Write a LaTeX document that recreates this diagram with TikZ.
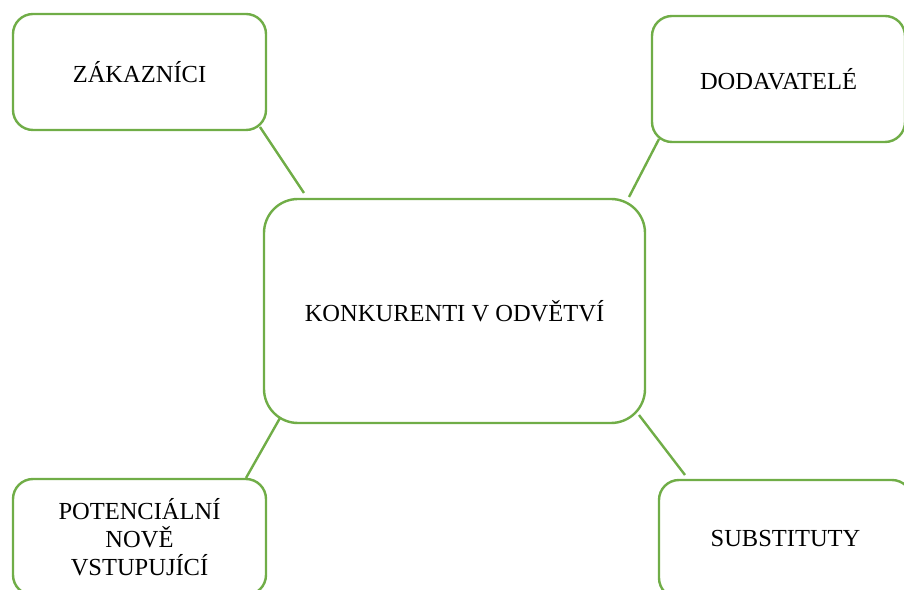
\documentclass[tikz,border=0pt]{standalone}
\usepackage{fontspec}
\setmainfont{Liberation Serif}
\usetikzlibrary{positioning}
\definecolor{leafgreen}{RGB}{112,173,71}

\begin{document}
\begin{tikzpicture}[x=1pt,y=1pt]
    % Define styles
    \tikzstyle{force} = [rectangle, draw=leafgreen, line width=2.4pt, fill=white, minimum width=253pt, minimum height=116pt, inner sep=0pt, outer sep=0pt, align=center, rounded corners=20pt, font=\fontsize{24.5}{28}\selectfont]
    \tikzstyle{rivals} = [force, minimum width=381pt, minimum height=224pt, rounded corners=34pt]
    \tikzstyle{link} = [draw=leafgreen, line width=2.4pt]

    \useasboundingbox (0,0) rectangle (904,589);
    \clip (0,0) rectangle (904,589);

    % Forces
    \node[rivals] (comp) at (454.5,278) {KONKURENTI V ODVĚTVÍ};
    \node[force, above left=69pt and -2pt of comp] (cust) {ZÁKAZNÍCI};
    \node[force, minimum height=126pt, above right=57pt and 7pt of comp] (supp) {DODAVATELÉ};
    \node[force, below left=56pt and -2pt of comp] (entr) {POTENCIÁLNÍ\\NOVĚ\\VSTUPUJÍCÍ};
    \node[force, minimum height=118pt, below right=57pt and 14pt of comp] (subs) {SUBSTITUTY};

    % Links
    \draw[link] ([xshift=-6pt,yshift=3pt]cust.south east) -- ([xshift=40pt,yshift=6pt]comp.north west);
    \draw[link] ([xshift=7pt,yshift=3pt]supp.south west) -- ([xshift=-16pt,yshift=2pt]comp.north east);
    \draw[link] ([xshift=-20pt,yshift=1pt]entr.north east) -- ([xshift=16pt,yshift=5pt]comp.south west);
    \draw[link] ([xshift=-6pt,yshift=8pt]comp.south east) -- ([xshift=26pt,yshift=5pt]subs.north west);

\end{tikzpicture}
\end{document}
